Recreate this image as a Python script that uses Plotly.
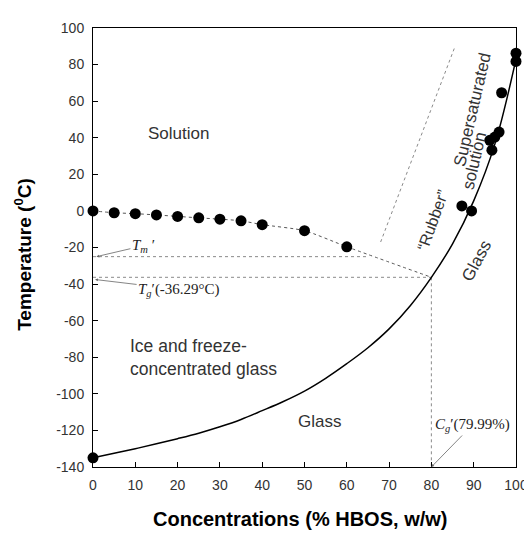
import plotly.graph_objects as go

# ---- data ----
sol_x = [0, 5, 10, 15, 20, 25, 30, 35, 40, 50, 60]
sol_y = [0, -1, -1.5, -2.2, -3, -3.8, -4.5, -5.4, -7.5, -10.8, -19.6]

glass_pts_x = [0, 87.2, 89.5, 93.8, 94.3, 95, 96, 96.6, 100, 100]
glass_pts_y = [-135, 2.7, 0, 38.6, 33.2, 40.4, 43.1, 64.6, 86.2, 81.7]

curve_x = [0, 5, 10, 15, 20, 25, 30, 35, 40, 45, 50, 55, 60, 65, 70, 75, 80, 85, 90, 95, 100]
curve_y = [-135, -132.5, -130, -127.3, -124.5, -121.5, -118, -114, -109.2, -104.2, -98.5,
           -91.5, -83.5, -74.8, -64.5, -51.8, -36.3, -18, 5.5, 36.5, 83]

TM_PRIME = -25.0
TG_PRIME = -36.29
CG_PRIME = 79.99
TM_LINE_END = 65
diag_x = [68, 85.6]
diag_y = [-17, 90]

x_ticks = [0, 10, 20, 30, 40, 50, 60, 70, 80, 90, 100]
x_tick_labels = ["0", "10", "20", "30", "40", "50", "60", "70", "80", "90", "100"]
y_ticks = [100, 80, 60, 40, 20, 0, -20, -40, -60, -80, -100, -120, -140]
y_tick_labels = ["100", "80", "60", "40", "20", "0", "-20", "-40", "-60", "-80", "-100", "-120", "-140"]

GUIDE = "#8a8a8a"
TXT = "#333333"
SANS = "Liberation Sans, Arial, sans-serif"
SERIF = "Liberation Serif, Times New Roman, serif"

fig = go.Figure()

# guide lines
fig.add_trace(go.Scatter(x=[0, TM_LINE_END], y=[TM_PRIME, TM_PRIME], mode="lines",
                         line=dict(color=GUIDE, width=1, dash="dot"), hoverinfo="skip"))
fig.add_trace(go.Scatter(x=[0, CG_PRIME], y=[TG_PRIME, TG_PRIME], mode="lines",
                         line=dict(color=GUIDE, width=1, dash="dot"), hoverinfo="skip"))
fig.add_trace(go.Scatter(x=[CG_PRIME, CG_PRIME], y=[TG_PRIME, -140], mode="lines",
                         line=dict(color=GUIDE, width=1, dash="dot"), hoverinfo="skip"))
fig.add_trace(go.Scatter(x=diag_x, y=diag_y, mode="lines",
                         line=dict(color=GUIDE, width=1, dash="dot"), hoverinfo="skip"))

# freezing (solution) curve
fig.add_trace(go.Scatter(x=sol_x + [CG_PRIME], y=sol_y + [TG_PRIME], mode="lines",
                         line=dict(color="#555555", width=1, dash="dot", shape="spline", smoothing=0.6),
                         hoverinfo="skip"))
# glass transition curve
fig.add_trace(go.Scatter(x=curve_x, y=curve_y, mode="lines",
                         line=dict(color="black", width=1.5, shape="spline", smoothing=1.0),
                         hoverinfo="skip"))
# markers
fig.add_trace(go.Scatter(x=sol_x, y=sol_y, mode="markers", cliponaxis=False,
                         marker=dict(color="black", size=11)))
fig.add_trace(go.Scatter(x=glass_pts_x, y=glass_pts_y, mode="markers", cliponaxis=False,
                         marker=dict(color="black", size=11)))

ann = []
def txt(x, y, s, size=17, angle=0, align="center", xanchor="center", font=SANS, color=TXT):
    ann.append(dict(x=x, y=y, xref="x", yref="y", text=s, showarrow=False, textangle=angle,
                    align=align, xanchor=xanchor, yanchor="middle",
                    font=dict(family=font, size=size, color=color)))

txt(20.3, 42.4, "Solution")
txt(8.2, -80, "Ice and freeze-<br>concentrated glass", align="left", xanchor="left", size=17.5)
txt(53.6, -115, "Glass")
txt(90.6, -27.5, "Glass", angle=-62)
txt(80.4, -5.5, "\u201cRubber\u201d", angle=-70, size=16)
txt(89.7, 55.5, "Supersaturated", angle=-77)
txt(90.2, 27.5, "solution", angle=-77)

arrow = dict(showarrow=True, arrowhead=2, arrowsize=0.7, arrowwidth=0.8, arrowcolor="#666666",
             xref="x", yref="y", font=dict(family=SERIF, size=15, color="#222222"))
ann.append(dict(arrow, x=0.8, y=TM_PRIME, ax=47, ay=-11,
                text="<i>T</i><sub><i>m</i></sub> \u2032"))
ann.append(dict(arrow, x=0.5, y=-37.5, ax=84, ay=10,
                text="<i>T</i><sub><i>g</i></sub>\u2032(-36.29\u00b0C)"))
ann.append(dict(arrow, x=CG_PRIME, y=-140, ax=41, ay=-42,
                text="<i>C</i><sub><i>g</i></sub>\u2032(79.99%)"))

# axis titles
ann.append(dict(x=-0.166, y=0.485, xref="paper", yref="paper", showarrow=False, textangle=-90,
                xanchor="center", yanchor="middle",
                text="<b>Temperature (<sup>0</sup>C)</b>",
                font=dict(family=SANS, size=19, color="black")))
ann.append(dict(x=0.49, y=-0.119, xref="paper", yref="paper", showarrow=False,
                xanchor="center", yanchor="middle",
                text="<b>Concentrations (% HBOS, w/w)</b>",
                font=dict(family=SANS, size=20, color="black")))

# the page body adds an 8px offset, so margins are shifted to keep the plot area in place
fig.update_layout(
    width=532, height=537,
    margin=dict(l=85, r=24, t=13, b=78),
    paper_bgcolor="white", plot_bgcolor="white",
    showlegend=False,
    annotations=ann,
    xaxis=dict(range=[0, 100], tickvals=x_ticks, ticktext=x_tick_labels, ticks="inside", ticklen=5,
               tickcolor="black", showline=True, linecolor="black", linewidth=1, mirror=True,
               showgrid=False, zeroline=False, ticklabelstandoff=5,
               tickfont=dict(family=SANS, size=14, color="#333333")),
    yaxis=dict(range=[-140, 100], tickvals=y_ticks, ticktext=y_tick_labels, ticks="inside", ticklen=5,
               tickcolor="black", showline=True, linecolor="black", linewidth=1, mirror=True,
               showgrid=False, zeroline=False, ticklabelstandoff=5,
               tickfont=dict(family=SANS, size=14, color="#333333")),
)

fig.write_html("out.html")
